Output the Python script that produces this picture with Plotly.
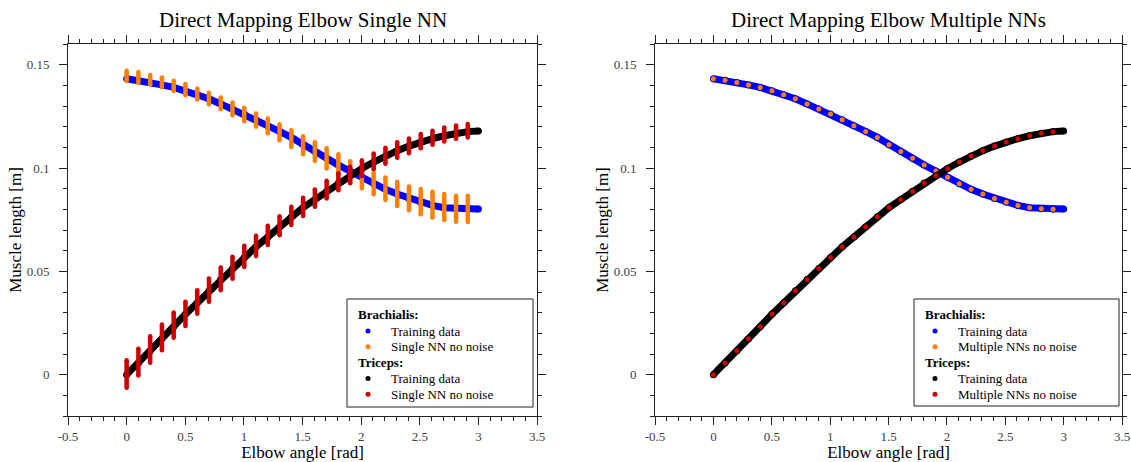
import plotly.graph_objects as go

# ---------------- data ----------------
angle_nn = [0.0, 0.1003, 0.2007, 0.3010, 0.4013, 0.5017, 0.6020, 0.7023, 0.8027, 0.9030,
            1.0033, 1.1037, 1.2040, 1.3043, 1.4047, 1.5050, 1.6054, 1.7057, 1.8060, 1.9064,
            2.0067, 2.1070, 2.2074, 2.3077, 2.4080, 2.5084, 2.6087, 2.7090, 2.8094, 2.9097]
angle_train = angle_nn + [3.0]

brach_train = [0.1432, 0.1424, 0.1414, 0.1402, 0.1390, 0.1374, 0.1355, 0.1335, 0.1310, 0.1285,
               0.1261, 0.1234, 0.1205, 0.1177, 0.1148, 0.1113, 0.1080, 0.1047, 0.1014, 0.0985,
               0.0955, 0.0924, 0.0897, 0.0874, 0.0853, 0.0834, 0.0819, 0.0808, 0.0803, 0.0801, 0.0802]
tri_train = [0.0000, 0.0056, 0.0116, 0.0174, 0.0233, 0.0293, 0.0348, 0.0406, 0.0461, 0.0514,
             0.0567, 0.0619, 0.0666, 0.0716, 0.0764, 0.0809, 0.0847, 0.0887, 0.0927, 0.0964,
             0.0998, 0.1029, 0.1058, 0.1084, 0.1106, 0.1126, 0.1142, 0.1156, 0.1168, 0.1176, 0.1179]

# Single NN (left panel): vertical spread of outputs at each angle
brach_single_hi = [0.1471, 0.1464, 0.1450, 0.1438, 0.1422, 0.1406, 0.1385, 0.1364, 0.1341, 0.1317,
                   0.1291, 0.1264, 0.1240, 0.1212, 0.1183, 0.1154, 0.1124, 0.1095, 0.1067, 0.1033,
                   0.0998, 0.0974, 0.0954, 0.0933, 0.0911, 0.0898, 0.0885, 0.0874, 0.0866, 0.0866]
brach_single_lo = [0.1421, 0.1413, 0.1405, 0.1392, 0.1373, 0.1352, 0.1332, 0.1308, 0.1284, 0.1255,
                   0.1226, 0.1200, 0.1168, 0.1134, 0.1102, 0.1066, 0.1034, 0.0997, 0.0966, 0.0934,
                   0.0902, 0.0873, 0.0845, 0.0816, 0.0795, 0.0776, 0.0760, 0.0748, 0.0740, 0.0739]
tri_single_hi = [0.0070, 0.0126, 0.0186, 0.0243, 0.0301, 0.0353, 0.0409, 0.0465, 0.0519, 0.0570,
                 0.0624, 0.0672, 0.0720, 0.0767, 0.0812, 0.0856, 0.0896, 0.0938, 0.0975, 0.1006,
                 0.1038, 0.1070, 0.1098, 0.1124, 0.1143, 0.1164, 0.1180, 0.1196, 0.1206, 0.1213]
tri_single_lo = [-0.0063, -0.0004, 0.0058, 0.0118, 0.0179, 0.0235, 0.0295, 0.0353, 0.0408, 0.0464,
                 0.0521, 0.0574, 0.0627, 0.0674, 0.0724, 0.0768, 0.0813, 0.0853, 0.0892, 0.0926,
                 0.0961, 0.0994, 0.1021, 0.1050, 0.1071, 0.1095, 0.1112, 0.1128, 0.1142, 0.1147]

# Multiple NNs (right panel)
brach_multi = [0.1432, 0.1424, 0.1414, 0.1402, 0.1390, 0.1374, 0.1355, 0.1335, 0.1310, 0.1285,
               0.1261, 0.1234, 0.1205, 0.1177, 0.1148, 0.1113, 0.1080, 0.1047, 0.1014, 0.0985,
               0.0955, 0.0924, 0.0897, 0.0874, 0.0853, 0.0834, 0.0819, 0.0808, 0.0803, 0.0801]
tri_multi = [0.0000, 0.0056, 0.0116, 0.0174, 0.0233, 0.0293, 0.0348, 0.0406, 0.0461, 0.0514,
             0.0567, 0.0619, 0.0666, 0.0716, 0.0764, 0.0809, 0.0847, 0.0887, 0.0927, 0.0964,
             0.0998, 0.1029, 0.1058, 0.1084, 0.1106, 0.1126, 0.1142, 0.1156, 0.1168, 0.1176]

x_tickvals = [-0.5, 0, 0.5, 1, 1.5, 2, 2.5, 3, 3.5]
x_ticktext = ["-0.5", "0", "0.5", "1", "1.5", "2", "2.5", "3", "3.5"]
y_tickvals = [0, 0.05, 0.1, 0.15]
y_ticktext = ["0", "0.05", "0.1", "0.15"]

titles = ["Direct Mapping Elbow Single NN", "Direct Mapping Elbow Multiple NNs"]
nn_names = ["Single NN no noise", "Multiple NNs no noise"]
group_names = ["Brachialis:", "Triceps:"]

# ---------------- style ----------------
FONT = "Liberation Serif, Times New Roman, serif"
BLUE = "#0000ff"
ORANGE = "#ff8000"
BLACK = "#000000"
RED = "#cc0000"
TRAIN_W = 7
BAR_W = 4.5

L, R, T, B = 68, 9, 44, 46
W, H = 1131, 462
pw = W - L - R
ph = H - T - B


def px2x(px):
    return (px - L) / pw


def px2y(py):
    return (H - B - py) / ph


def bars(xs, lo, hi):
    bx, by = [], []
    for x, a, b in zip(xs, lo, hi):
        bx += [x, x, None]
        by += [a, b, None]
    return bx, by


fig = go.Figure()

# ---- left panel ----
fig.add_trace(go.Scatter(x=angle_train, y=brach_train, mode="lines+markers", xaxis="x", yaxis="y",
                         line=dict(color=BLUE, width=TRAIN_W), marker=dict(color=BLUE, size=TRAIN_W),
                         name="Brachialis training data", showlegend=False))
bx, by = bars(angle_nn, brach_single_lo, brach_single_hi)
fig.add_trace(go.Scatter(x=bx, y=by, mode="lines+markers", xaxis="x", yaxis="y",
                         line=dict(color=ORANGE, width=BAR_W), marker=dict(color=ORANGE, size=BAR_W),
                         name="Brachialis single NN", showlegend=False))
fig.add_trace(go.Scatter(x=angle_train, y=tri_train, mode="lines+markers", xaxis="x", yaxis="y",
                         line=dict(color=BLACK, width=TRAIN_W), marker=dict(color=BLACK, size=TRAIN_W),
                         name="Triceps training data", showlegend=False))
bx, by = bars(angle_nn, tri_single_lo, tri_single_hi)
fig.add_trace(go.Scatter(x=bx, y=by, mode="lines+markers", xaxis="x", yaxis="y",
                         line=dict(color=RED, width=BAR_W), marker=dict(color=RED, size=BAR_W),
                         name="Triceps single NN", showlegend=False))

# ---- right panel ----
fig.add_trace(go.Scatter(x=angle_train, y=brach_train, mode="lines+markers", xaxis="x2", yaxis="y2",
                         line=dict(color=BLUE, width=TRAIN_W), marker=dict(color=BLUE, size=TRAIN_W),
                         name="Brachialis training data", showlegend=False))
fig.add_trace(go.Scatter(x=angle_nn, y=brach_multi, mode="markers", xaxis="x2", yaxis="y2",
                         marker=dict(color=ORANGE, size=5), name="Brachialis multiple NNs",
                         showlegend=False))
fig.add_trace(go.Scatter(x=angle_train, y=tri_train, mode="lines+markers", xaxis="x2", yaxis="y2",
                         line=dict(color=BLACK, width=TRAIN_W), marker=dict(color=BLACK, size=TRAIN_W),
                         name="Triceps training data", showlegend=False))
fig.add_trace(go.Scatter(x=angle_nn, y=tri_multi, mode="markers", xaxis="x2", yaxis="y2",
                         marker=dict(color=RED, size=5), name="Triceps multiple NNs",
                         showlegend=False))

# ---- legends (drawn as boxed annotations, one per panel) ----
shapes = []
annotations = []
legend_boxes = [(347, 299, 533, 407), (914, 299, 1119, 406)]
row_y = [314.5, 331, 346.7, 362.3, 378.5, 394.3]
for i, (x0, y0, x1, y1) in enumerate(legend_boxes):
    shapes.append(dict(type="rect", xref="paper", yref="paper",
                       x0=px2x(x0), x1=px2x(x1), y0=px2y(y1), y1=px2y(y0),
                       line=dict(color="#222", width=1), fillcolor="white", layer="above"))
    rows = [("g", group_names[0], None),
            ("i", "Training data", BLUE),
            ("i", nn_names[i], ORANGE),
            ("g", group_names[1], None),
            ("i", "Training data", BLACK),
            ("i", nn_names[i], RED)]
    for (kind, text, col), ry in zip(rows, row_y):
        if kind == "g":
            annotations.append(dict(text=f"<b>{text}</b>", xref="paper", yref="paper",
                                    x=px2x(x0 + 10), y=px2y(ry), xanchor="left", yanchor="middle",
                                    showarrow=False, borderpad=0,
                                    font=dict(family=FONT, size=13, color="black")))
        else:
            r = 2.5
            cx = x0 + 21
            shapes.append(dict(type="circle", xref="paper", yref="paper",
                               x0=px2x(cx - r), x1=px2x(cx + r), y0=px2y(ry + r), y1=px2y(ry - r),
                               line=dict(width=0), fillcolor=col, layer="above"))
            annotations.append(dict(text=text, xref="paper", yref="paper",
                                    x=px2x(x0 + 43), y=px2y(ry), xanchor="left", yanchor="middle",
                                    showarrow=False, borderpad=0,
                                    font=dict(family=FONT, size=13, color="black")))

dom1 = [0, (537 - L) / pw]
dom2 = [(655 - L) / pw, 1]

for dom, title in zip([dom1, dom2], titles):
    annotations.append(dict(text=title, x=sum(dom) / 2, y=1, xref="paper", yref="paper",
                            xanchor="center", yanchor="bottom", yshift=10, showarrow=False,
                            font=dict(family=FONT, size=21, color="black")))

axis_common = dict(
    showline=True, linecolor="#222", linewidth=1, mirror="ticks",
    ticks="outside", ticklen=8, tickwidth=1, tickcolor="#222",
    showgrid=False, zeroline=False, automargin=False,
    tickfont=dict(family=FONT, size=13, color="#404040"),
)
xaxis_common = dict(axis_common, range=[-0.5, 3.5], tickmode="array",
                    tickvals=x_tickvals, ticktext=x_ticktext,
                    minor=dict(dtick=0.1, tick0=0, ticks="outside", ticklen=4, tickcolor="#222"),
                    title=dict(text="Elbow angle [rad]", font=dict(family=FONT, size=17, color="black"),
                               standoff=4))
yaxis_common = dict(axis_common, range=[-0.02, 0.16], tickmode="array",
                    tickvals=y_tickvals, ticktext=y_ticktext, ticklabelstandoff=7,
                    minor=dict(dtick=0.01, tick0=0, ticks="outside", ticklen=4, tickcolor="#222"),
                    title=dict(text="Muscle length [m]", font=dict(family=FONT, size=17, color="black"),
                               standoff=0))

fig.update_layout(
    width=W, height=H,
    margin=dict(l=L, r=R, t=T, b=B),
    paper_bgcolor="white", plot_bgcolor="white",
    font=dict(family=FONT, color="black"),
    showlegend=False,
    xaxis=dict(xaxis_common, domain=dom1, anchor="y"),
    yaxis=dict(yaxis_common, domain=[0, 1], anchor="x"),
    xaxis2=dict(xaxis_common, domain=dom2, anchor="y2"),
    yaxis2=dict(yaxis_common, domain=[0, 1], anchor="x2"),
    shapes=shapes,
    annotations=annotations,
)

fig.write_html("out.html")
